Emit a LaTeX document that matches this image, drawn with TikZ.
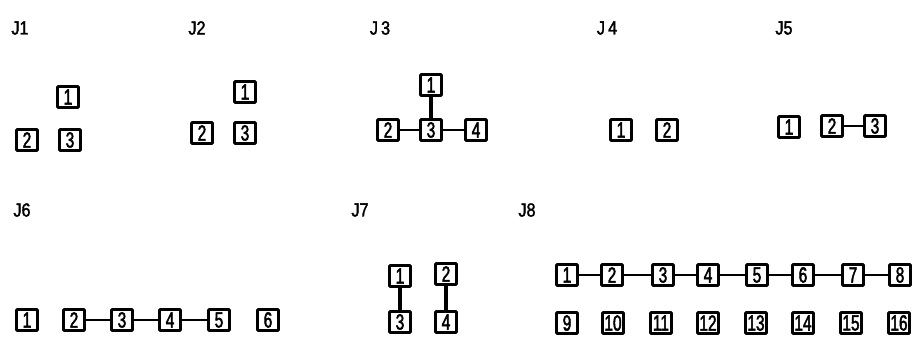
\documentclass[tikz,border=0pt]{standalone}
\usepackage{fontspec}
\newfontfamily\boxfont[FakeStretch=0.7,FakeBold=2]{Liberation Sans}
\newfontfamily\labfont[FakeStretch=0.85,FakeBold=1.8]{Liberation Sans}
\tikzset{box/.style={draw,line width=2.8pt,rounded corners=.8pt,minimum width=21pt,minimum height=21pt,inner sep=0pt,font=\boxfont\fontsize{22}{22}\selectfont},
  lab/.style={font=\labfont\fontsize{19}{19}\selectfont},link/.style={line width=2.6pt}}

\begin{document}
\begin{tikzpicture}[x=1pt,y=-1pt]
\useasboundingbox (0,0) rectangle (922,341);
% top row
\node[lab] (lj1) at (20,28){J1};\node[box] (j1a) at (68,97){1};\node[box] (j1b) at (27,140){2};\node[box] (j1c) at (70,140){3};
\node[lab] (lj2) at (197,28){J2};\node[box] (j2a) at (245,92){1};\node[box] (j2b) at (202,133){2};\node[box] (j2c) at (245,133){3};
\node[lab] (lj3) at (380,28){J\,3};\node[box] (j3a) at (431,85){1};\node[box] (j3b) at (388,130){2};\node[box] (j3c) at (431,130){3};\node[box] (j3d) at (476,130){4};
\draw[link,line width=3.2pt] (j3a)--(j3c);\draw[link] (j3b)--(j3c);\draw[link] (j3c)--(j3d);
\node[lab] (lj4) at (607,28){J\,4};\node[box] (j4a) at (621,130){1};\node[box] (j4b) at (667,130){2};
\node[lab] (lj5) at (784,28){J5};\node[box] (j5a) at (789,127){1};\node[box] (j5b) at (832,126){2};\node[box] (j5c) at (875,126){3};
\draw[link] (j5b)--(j5c);
% bottom row
\node[lab] (lj6) at (22,210){J6};
\node[box] (j6a) at (27,320){1};\node[box] (j6b) at (74,320){2};\node[box] (j6c) at (122,320){3};
\node[box] (j6d) at (170,320){4};\node[box] (j6e) at (219,320){5};\node[box] (j6f) at (268,320){6};
\draw[link] (j6b)--(j6c);\draw[link] (j6c)--(j6d);\draw[link] (j6d)--(j6e);
\node[lab] (lj7) at (360,210){J7};\node[box] (j7a) at (400,276){1};\node[box] (j7b) at (446,274){2};\node[box] (j7c) at (400,322){3};\node[box] (j7d) at (446,322){4};
\draw[link,line width=3.2pt] (j7a)--(j7c);\draw[link,line width=3.2pt] (j7b)--(j7d);
\node[lab] (lj8) at (527,210){J8};
\node[box] (j8a) at (567,275){1};\node[box] (j8b) at (612,275){2};\node[box] (j8c) at (663,275){3};\node[box] (j8d) at (708,275){4};
\node[box] (j8e) at (757,275){5};\node[box] (j8f) at (803,275){6};\node[box] (j8g) at (853,275){7};\node[box] (j8h) at (900,275){8};
\draw[link] (j8a)--(j8b);\draw[link] (j8b)--(j8c);\draw[link] (j8c)--(j8d);\draw[link] (j8d)--(j8e);
\draw[link] (j8e)--(j8f);\draw[link] (j8f)--(j8g);\draw[link] (j8g)--(j8h);
\node[box] (j8i) at (567,323){9};\node[box] (j8j) at (613,323){10};\node[box] (j8k) at (661,323){11};\node[box] (j8l) at (708,323){12};
\node[box] (j8m) at (756,323){13};\node[box] (j8n) at (803,323){14};\node[box] (j8o) at (851,323){15};\node[box] (j8p) at (899,323){16};
\end{tikzpicture}
\end{document}
